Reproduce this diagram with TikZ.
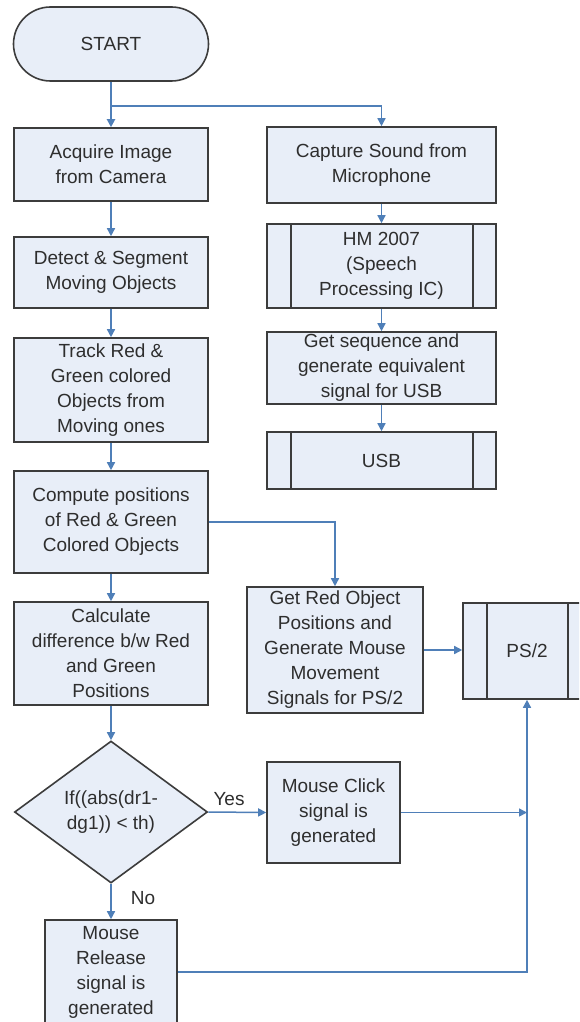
\documentclass[tikz,border=0pt]{standalone}
\usepackage{fontspec}
\setmainfont{Liberation Sans}
\usetikzlibrary{arrows.meta,shapes.geometric,calc}
\definecolor{boxfill}{HTML}{E8EEF8}
\definecolor{boxline}{HTML}{3C3C3C}
\definecolor{arrowblue}{HTML}{4F7FB8}
\definecolor{txt}{HTML}{2E2E2E}
\begin{document}
\begin{tikzpicture}[x=1pt,y=-1pt,
  box/.style={draw=boxline, fill=boxfill, line width=1.6pt, align=center,
    font=\fontsize{19}{25}\selectfont, inner sep=0pt, text=txt},
  term/.style={box, rounded corners=37pt},
  dec/.style={box, diamond, aspect=1.36},
  lbl/.style={font=\fontsize{19}{25}\selectfont, text=txt, inner sep=0pt},
  arr/.style={draw=arrowblue, line width=1.5pt, -{Triangle[length=8pt,width=8pt]}},
  side/.style={draw=boxline, line width=1.6pt}]
\useasboundingbox (0,0) rectangle (579,1022);
\clip (0,0) rectangle (579,1022);
\fill[white] (0,0) rectangle (579,1022);

% left column
\node[term, minimum width=195pt, minimum height=74pt] (start) at (111,44) {START};
\node[box, minimum width=194pt, minimum height=73pt] (acq) at (111,164.5) {Acquire Image\\from Camera};
\node[box, minimum width=194pt, minimum height=71pt] (det) at (111,272.5) {Detect \& Segment\\Moving Objects};
\node[box, minimum width=194pt, minimum height=104pt] (trk) at (111,390) {Track Red \&\\Green colored\\Objects from\\Moving ones};
\node[box, minimum width=194pt, minimum height=102pt] (cmp) at (111,522) {Compute positions\\of Red \& Green\\Colored Objects};
\node[box, minimum width=194pt, minimum height=103pt] (calc) at (111,653.5) {Calculate\\difference b/w Red\\and Green\\Positions};
\node[dec, minimum width=193pt, minimum height=142pt] (dia) at (111,812) {If((abs(dr1-\\dg1)) < th)};
\node[box, minimum width=132pt, minimum height=104pt] (rel) at (111,972) {Mouse\\Release\\signal is\\generated};

% right column
\node[box, minimum width=229pt, minimum height=76pt] (cap) at (381.5,165) {Capture Sound from\\Microphone};
\node[box, minimum width=229pt, minimum height=84pt] (hm) at (381.5,266) {HM 2007\\(Speech\\Processing IC)};
\node[box, minimum width=229pt, minimum height=72pt] (seq) at (381.5,368) {Get sequence and\\generate equivalent\\signal for USB};
\node[box, minimum width=229pt, minimum height=57pt] (usb) at (381.5,460.5) {USB};
\node[box, minimum width=176pt, minimum height=126pt] (red) at (335,650) {Get Red Object\\Positions and\\Generate Mouse\\Movement\\Signals for PS/2};
\node[box, minimum width=128pt, minimum height=96pt] (ps2) at (527,651) {PS/2};
\node[box, minimum width=133pt, minimum height=101pt] (click) at (333.5,812.5) {Mouse Click\\signal is\\generated};

% predefined-process side bars
\foreach \n in {hm,usb,ps2}{
  \draw[side] ([xshift=25pt]\n.north west) -- ([xshift=25pt]\n.south west);
  \draw[side] ([xshift=-24pt]\n.north east) -- ([xshift=-24pt]\n.south east);
}

% labels
\node[lbl] (yes) at (229,799) {Yes};
\node[lbl] (no) at (143,898) {No};

% connectors
\coordinate (br) at (111,106);
\draw[arr, line width=2.4pt] (start) -- (acq);
\draw[arr] (br) -| (cap.north);
\draw[arr] (acq) -- (det);
\draw[arr] (det) -- (trk);
\draw[arr] (trk) -- (cmp);
\draw[arr] (cmp) -- (calc);
\draw[arr] (calc) -- (dia);
\draw[arr] (dia) -- (rel);
\draw[arr] (cap) -- (hm);
\draw[arr] (hm) -- (seq);
\draw[arr] (seq) -- (usb);
\draw[arr] (cmp.east) -| (red.north);
\draw[arr] (red.east) -- (red.east -| ps2.west);
\draw[arr] (dia.east) -- (click.west);
\coordinate (jn) at (click.east -| ps2.south);
\draw[arr] (click.east) -- (jn);
\draw[arr] (rel.east) -| (ps2.south);
\end{tikzpicture}
\end{document}
